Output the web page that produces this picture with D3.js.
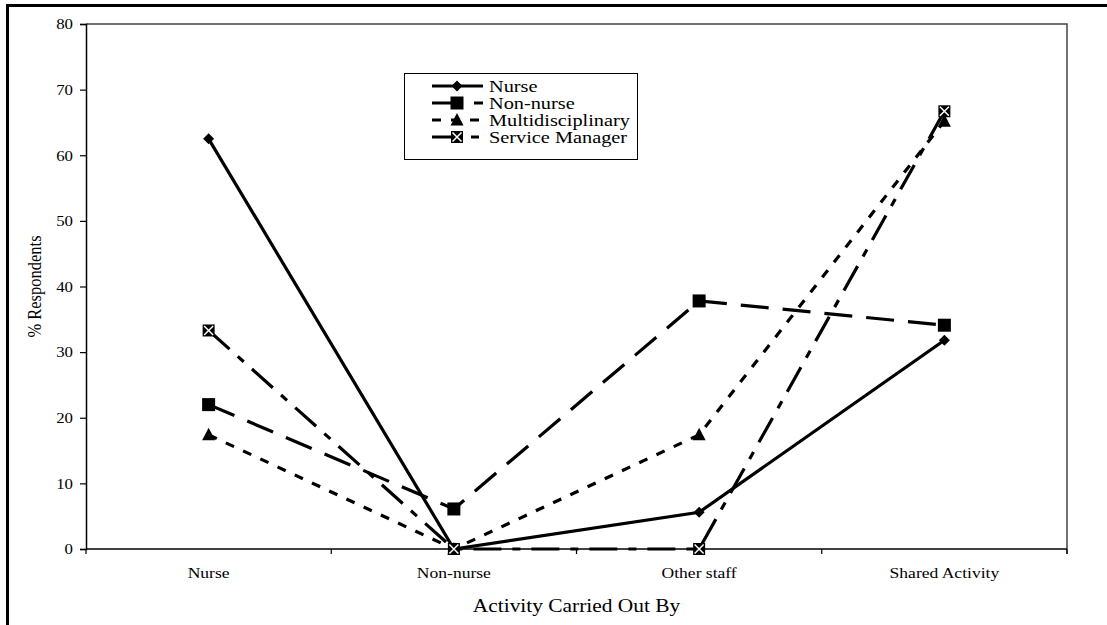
<!DOCTYPE html>
<html>
<head>
<meta charset="utf-8">
<script src="https://cdn.jsdelivr.net/npm/d3@7"></script>
<style>
  html, body { margin: 0; padding: 0; background: #fff; }
  svg { display: block; }
</style>
</head>
<body>
<div id="chart"></div>
<script>
// categories and series
const categories = ["Nurse", "Non-nurse", "Other staff", "Shared Activity"];
const nurse = [62.5, 0, 5.6, 31.8];
const nonNurse = [22.0, 6.1, 37.8, 34.1];
const multidisciplinary = [17.4, 0, 17.4, 65.2];
const serviceManager = [33.3, 0, 0, 66.7];
const yTicks = [0, 10, 20, 30, 40, 50, 60, 70, 80];

const series = [
    { name: "Nurse", values: nurse, dash: null, marker: "diamond" },
    { name: "Non-nurse", values: nonNurse, dash: "28,14", marker: "square" },
    { name: "Multidisciplinary", values: multidisciplinary, dash: "9,10", marker: "triangle" },
    { name: "Service Manager", values: serviceManager, dash: "28,11,8,11", marker: "xsquare" }
];

const width = 1107;
const height = 625;
const font = "'Liberation Serif', 'Times New Roman', serif";

const plot = { left: 86, right: 1067, top: 24, bottom: 549 };

const svg = d3.select("#chart").append("svg")
    .attr("width", width)
    .attr("height", height);

const x = d3.scaleBand()
    .domain(categories)
    .range([plot.left, plot.right])
    .padding(0);

const y = d3.scaleLinear()
    .domain([0, 80])
    .range([plot.bottom, plot.top]);

const cx = c => x(c) + x.bandwidth() / 2;

// outer frame (left + top edges only are visible)
svg.append("path")
    .attr("d", `M7.5,${height} V5.5 H${width}`)
    .attr("fill", "none")
    .attr("stroke", "#000")
    .attr("stroke-width", 3);

// plot area frame, top and right
svg.append("path")
    .attr("d", `M${plot.left},${plot.top} H${plot.right} V${plot.bottom + 5}`)
    .attr("fill", "none")
    .attr("stroke", "#444")
    .attr("stroke-width", 1.5);

// y axis
const yAxis = svg.append("g")
    .attr("transform", `translate(${plot.left},0)`)
    .call(d3.axisLeft(y).tickValues(yTicks).tickSize(6).tickPadding(7));
yAxis.select(".domain").attr("stroke", "#000").attr("stroke-width", 1.5);
yAxis.selectAll(".tick line").attr("stroke", "#000").attr("stroke-width", 1.2);
yAxis.selectAll(".tick text")
    .attr("font-family", font)
    .attr("font-size", 15)
    .attr("fill", "#000")
    .attr("x", -13 / 1.12)
    .attr("transform", "scale(1.12,1)");

// x axis line + ticks at category boundaries
const xAxis = svg.append("g")
    .attr("transform", `translate(0,${plot.bottom})`);
xAxis.append("line")
    .attr("x1", plot.left).attr("x2", plot.right)
    .attr("stroke", "#000").attr("stroke-width", 1.5);
const bounds = d3.range(categories.length + 1).map(i => plot.left + i * x.step());
xAxis.selectAll(".bt")
    .data(bounds)
    .join("line")
    .attr("class", "bt")
    .attr("x1", d => d).attr("x2", d => d)
    .attr("y1", 0).attr("y2", 5)
    .attr("stroke", "#000").attr("stroke-width", 1.2);
xAxis.selectAll(".cat")
    .data(categories)
    .join("text")
    .attr("class", "cat")
    .attr("font-family", font)
    .attr("font-size", 15)
    .attr("text-anchor", "middle")
    .attr("transform", d => `translate(${cx(d)},29) scale(1.17,1)`)
    .text(d => d);

// axis titles
svg.append("text")
    .attr("font-family", font)
    .attr("font-size", 18)
    .attr("text-anchor", "middle")
    .attr("transform", `translate(${(plot.left + plot.right) / 2},612) scale(1.19,1)`)
    .text("Activity Carried Out By");

svg.append("text")
    .attr("font-family", font)
    .attr("font-size", 16.5)
    .attr("text-anchor", "middle")
    .attr("transform", `translate(41,${(plot.top + plot.bottom) / 2}) scale(1.2,1) rotate(-90)`)
    .text("% Respondents");

// markers
function drawMarker(g, type, px, py) {
    if (type === "diamond") {
        g.append("path")
            .attr("d", `M${px},${py - 5.5} L${px + 5.5},${py} L${px},${py + 5.5} L${px - 5.5},${py} Z`)
            .attr("fill", "#000");
    } else if (type === "square") {
        g.append("rect")
            .attr("x", px - 6.5).attr("y", py - 6.5)
            .attr("width", 13).attr("height", 13)
            .attr("fill", "#000");
    } else if (type === "triangle") {
        g.append("path")
            .attr("d", `M${px},${py - 7} L${px + 6.5},${py + 5.5} L${px - 6.5},${py + 5.5} Z`)
            .attr("fill", "#000");
    } else if (type === "xsquare") {
        g.append("rect")
            .attr("x", px - 6).attr("y", py - 6)
            .attr("width", 12).attr("height", 12)
            .attr("fill", "#000");
        g.append("path")
            .attr("d", `M${px - 4.5},${py - 4.5} L${px + 4.5},${py + 4.5} M${px + 4.5},${py - 4.5} L${px - 4.5},${py + 4.5}`)
            .attr("stroke", "#fff")
            .attr("stroke-width", 1.5);
    }
}

const line = d3.line()
    .x((d, i) => cx(categories[i]))
    .y(d => y(d));

const lines = svg.append("g");
series.forEach(s => {
    lines.append("path")
        .datum(s.values)
        .attr("d", line)
        .attr("fill", "none")
        .attr("stroke", "#000")
        .attr("stroke-width", 3.2)
        .attr("stroke-dasharray", s.dash);
});
const marks = svg.append("g");
series.forEach(s => {
    s.values.forEach((v, i) => drawMarker(marks, s.marker, cx(categories[i]), y(v)));
});

// legend
const legend = svg.append("g");
legend.append("rect")
    .attr("x", 404.5).attr("y", 73.5)
    .attr("width", 233).attr("height", 86)
    .attr("fill", "#fff")
    .attr("stroke", "#000")
    .attr("stroke-width", 1);

series.forEach((s, i) => {
    const ly = 86 + i * 17;
    legend.append("line")
        .attr("x1", 432).attr("x2", 483)
        .attr("y1", ly).attr("y2", ly)
        .attr("stroke", "#000")
        .attr("stroke-width", 3.2)
        .attr("stroke-dasharray", s.dash);
    drawMarker(legend, s.marker, 457, ly);
    legend.append("text")
        .attr("font-family", font)
        .attr("font-size", 16)
        .attr("transform", `translate(489,${ly + 5.5}) scale(1.27,1)`)
        .text(s.name);
});
</script>
</body>
</html>
